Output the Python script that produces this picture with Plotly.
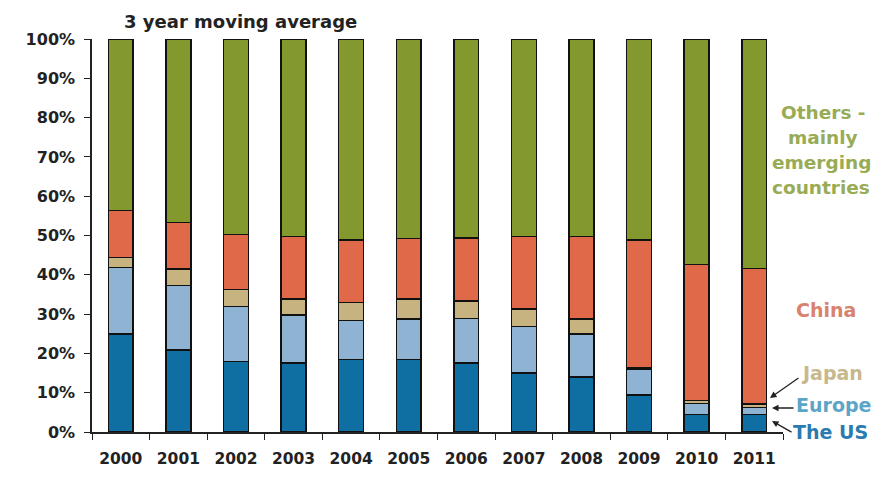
import plotly.graph_objects as go

years = ["2000", "2001", "2002", "2003", "2004", "2005", "2006", "2007", "2008", "2009", "2010", "2011"]
us = [25.0, 20.9, 18.0, 17.5, 18.4, 18.4, 17.5, 15.0, 14.0, 9.4, 4.5, 4.5]
europe = [16.8, 16.4, 13.9, 12.3, 10.0, 10.4, 11.4, 11.9, 10.9, 6.6, 2.8, 1.7]
japan = [2.6, 4.2, 4.4, 4.0, 4.5, 5.0, 4.4, 4.4, 3.9, 0.3, 0.7, 0.9]
china = [11.9, 11.8, 14.0, 16.0, 15.9, 15.5, 16.1, 18.4, 21.0, 32.6, 34.6, 34.5]
others = [43.7, 46.7, 49.7, 50.2, 51.2, 50.7, 50.6, 50.3, 50.2, 51.1, 57.4, 58.4]
ytick_vals = [0, 10, 20, 30, 40, 50, 60, 70, 80, 90, 100]
ytick_text = [f"{v}%" for v in ytick_vals]

series = [
    ("The US", us, "#0f6fa3"),
    ("Europe", europe, "#8fb3d3"),
    ("Japan", japan, "#c6b37f"),
    ("China", china, "#e0694a"),
    ("Others", others, "#84992d"),
]

fig = go.Figure()
for name, vals, col in series:
    fig.add_trace(go.Bar(
        x=years, y=vals, name=name, width=0.43,
        marker=dict(color=col, line=dict(color="#111111", width=1.5)),
    ))

font_fam = "DejaVu Sans, Verdana, sans-serif"
W, H = 881, 482
L, R, T, B = 92, 98, 39, 50
pw, ph = W - L - R, H - T - B

fig.update_layout(
    barmode="stack",
    width=W, height=H,
    margin=dict(l=L, r=R, t=T, b=B),
    paper_bgcolor="white", plot_bgcolor="white",
    showlegend=False,
    font=dict(family=font_fam),
    xaxis=dict(
        type="category", tickson="boundaries", ticks="outside", ticklen=6,
        tickcolor="#222", showline=True, linecolor="#222", linewidth=1.5,
        showgrid=False, ticklabelstandoff=12,
        tickfont=dict(family=font_fam, size=15.5, color="#222", weight="bold"),
    ),
    yaxis=dict(
        range=[0, 100], tickvals=ytick_vals, ticktext=ytick_text,
        ticks="outside", ticklen=6, tickcolor="#222",
        showline=True, linecolor="#222", linewidth=1.5, showgrid=False,
        zeroline=False, ticklabelstandoff=6,
        tickfont=dict(family=font_fam, size=16, color="#222", weight="bold"),
    ),
)

ann = [
    dict(text="<b>3 year moving average</b>", x=240, y=22, size=18, color="#222"),
    dict(text="<b>Others -</b>", x=823, y=112, size=18.5, color="#98ab55"),
    dict(text="<b>mainly</b>", x=823, y=137, size=18.5, color="#98ab55"),
    dict(text="<b>emerging</b>", x=822, y=162, size=18.5, color="#98ab55"),
    dict(text="<b>countries</b>", x=821, y=187, size=18.5, color="#98ab55"),
    dict(text="<b>China</b>", x=826, y=310, size=19, color="#d9826e"),
    dict(text="<b>Japan</b>", x=832, y=373, size=19, color="#c8b88e"),
    dict(text="<b>Europe</b>", x=833, y=405, size=19, color="#5aa5c8"),
    dict(text="<b>The US</b>", x=831, y=432, size=19, color="#2b7bb0"),
]
for a in ann:
    fig.add_annotation(
        text=a["text"], x=(a["x"] - L) / pw, y=(H - B - a["y"]) / ph,
        xref="paper", yref="paper", xanchor="center", yanchor="middle",
        showarrow=False, font=dict(size=a["size"], color=a["color"], family=font_fam),
        align="center", borderpad=0,
    )

arrows = [
    (800, 377, 770, 398),
    (795, 408, 772, 408),
    (793, 433, 772, 421),
]
for x0, y0, x1, y1 in arrows:
    fig.add_annotation(
        x=(x1 - L) / pw, y=(H - B - y1) / ph, xref="paper", yref="paper",
        ax=x0 - x1, ay=y0 - y1, axref="pixel", ayref="pixel",
        showarrow=True, arrowhead=2, arrowsize=1, arrowwidth=1.3, arrowcolor="#222", text="",
    )

fig.write_html("out.html")
